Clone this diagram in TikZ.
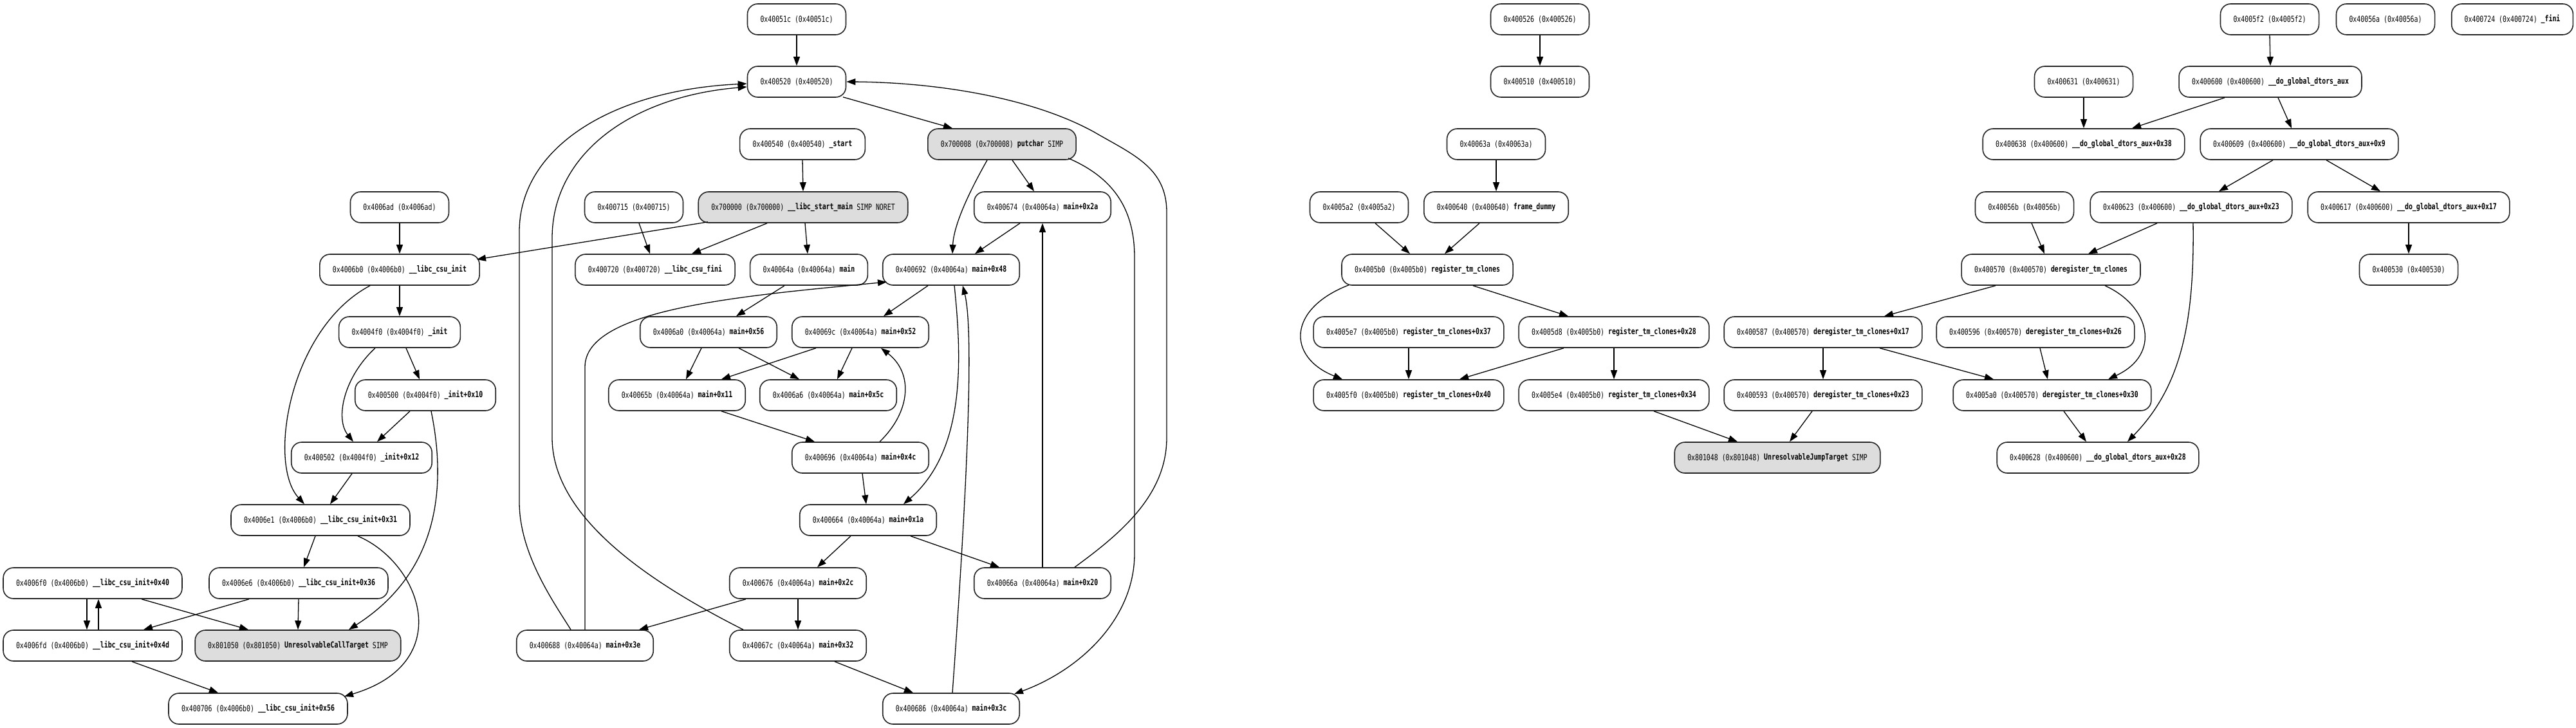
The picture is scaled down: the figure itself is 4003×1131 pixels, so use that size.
\documentclass[tikz,border=0pt]{standalone}
\usepackage{fontspec}
\setmonofont[FakeStretch=0.76]{DejaVu Sans Mono}
\usetikzlibrary{arrows.meta}
\definecolor{nodegray}{HTML}{DDDDDD}
\newcommand\fnm[1]{\raisebox{1pt}{\bfseries #1}}
\begin{document}
\begin{tikzpicture}[x=1pt,y=-1pt,
  blk/.style={draw=black!85, line width=1.6pt, rounded corners=16pt, minimum height=48pt, inner xsep=20pt, inner ysep=0pt, fill=white, font=\ttfamily\fontsize{13}{15}\selectfont},
  gblk/.style={blk, fill=nodegray},
  conn/.style={-{Triangle[length=14pt,width=10pt]}, line width=1.3pt},
]
\useasboundingbox (0,0) rectangle (4003,1131);

% ---------- left cluster ----------
\node[blk] (n4006ad) at (621,322) {0x4006ad (0x4006ad)};
\node[blk] (n4006b0) at (621,419) {0x4006b0 (0x4006b0) \fnm{\_\_libc\_csu\_init}};
\node[blk] (n4004f0) at (621,516) {0x4004f0 (0x4004f0) \fnm{\_init}};
\node[blk] (n400500) at (661,614) {0x400500 (0x4004f0) \fnm{\_init+0x10}};
\node[blk] (n400502) at (562,711) {0x400502 (0x4004f0) \fnm{\_init+0x12}};
\node[blk] (n4006e1) at (498,808) {0x4006e1 (0x4006b0) \fnm{\_\_libc\_csu\_init+0x31}};
\node[blk] (n4006f0) at (144,906) {0x4006f0 (0x4006b0) \fnm{\_\_libc\_csu\_init+0x40}};
\node[blk] (n4006e6) at (464,906) {0x4006e6 (0x4006b0) \fnm{\_\_libc\_csu\_init+0x36}};
\node[blk] (n4006fd) at (144,1003) {0x4006fd (0x4006b0) \fnm{\_\_libc\_csu\_init+0x4d}};
\node[gblk] (n801050) at (463,1003) {0x801050 (0x801050) \fnm{UnresolvableCallTarget} SIMP};
\node[blk] (n400706) at (401,1101) {0x400706 (0x4006b0) \fnm{\_\_libc\_csu\_init+0x56}};

% ---------- middle cluster ----------
\node[blk] (n40051c) at (1238,30) {0x40051c (0x40051c)};
\node[blk] (n400520) at (1238,127) {0x400520 (0x400520)};
\node[blk] (n400540) at (1247,224) {0x400540 (0x400540) \fnm{\_start}};
\node[gblk] (n700008) at (1557,224) {0x700008 (0x700008) \fnm{putchar} SIMP};
\node[blk] (n400715) at (985,322) {0x400715 (0x400715)};
\node[gblk] (n700000) at (1248,322) {0x700000 (0x700000) \fnm{\_\_libc\_start\_main} SIMP NORET};
\node[blk] (n400674) at (1620,322) {0x400674 (0x40064a) \fnm{main+0x2a}};
\node[blk] (n400720) at (1018,419) {0x400720 (0x400720) \fnm{\_\_libc\_csu\_fini}};
\node[blk] (n40064a) at (1257,419) {0x40064a (0x40064a) \fnm{main}};
\node[blk] (n400692) at (1478,419) {0x400692 (0x40064a) \fnm{main+0x48}};
\node[blk] (n4006a0) at (1101,516) {0x4006a0 (0x40064a) \fnm{main+0x56}};
\node[blk] (n40069c) at (1337,516) {0x40069c (0x40064a) \fnm{main+0x52}};
\node[blk] (n40065b) at (1052,614) {0x40065b (0x40064a) \fnm{main+0x11}};
\node[blk] (n4006a6) at (1287,614) {0x4006a6 (0x40064a) \fnm{main+0x5c}};
\node[blk] (n400696) at (1337,711) {0x400696 (0x40064a) \fnm{main+0x4c}};
\node[blk] (n400664) at (1349,808) {0x400664 (0x40064a) \fnm{main+0x1a}};
\node[blk] (n400676) at (1240,906) {0x400676 (0x40064a) \fnm{main+0x2c}};
\node[blk] (n40066a) at (1620,906) {0x40066a (0x40064a) \fnm{main+0x20}};
\node[blk] (n400688) at (909,1003) {0x400688 (0x40064a) \fnm{main+0x3e}};
\node[blk] (n40067c) at (1240,1003) {0x40067c (0x40064a) \fnm{main+0x32}};
\node[blk] (n400686) at (1478,1101) {0x400686 (0x40064a) \fnm{main+0x3c}};

% ---------- right cluster 1 ----------
\node[blk] (n400526) at (2393,30) {0x400526 (0x400526)};
\node[blk] (n400510) at (2393,127) {0x400510 (0x400510)};
\node[blk] (n40063a) at (2325,224) {0x40063a (0x40063a)};
\node[blk] (n4005a2) at (2112,322) {0x4005a2 (0x4005a2)};
\node[blk] (n400640) at (2325,322) {0x400640 (0x400640) \fnm{frame\_dummy}};
\node[blk] (n4005b0) at (2218,419) {0x4005b0 (0x4005b0) \fnm{register\_tm\_clones}};
\node[blk] (n4005e7) at (2189,516) {0x4005e7 (0x4005b0) \fnm{register\_tm\_clones+0x37}};
\node[blk] (n4005d8) at (2508,516) {0x4005d8 (0x4005b0) \fnm{register\_tm\_clones+0x28}};
\node[blk] (n400587) at (2833,516) {0x400587 (0x400570) \fnm{deregister\_tm\_clones+0x17}};
\node[blk] (n4005f0) at (2189,614) {0x4005f0 (0x4005b0) \fnm{register\_tm\_clones+0x40}};
\node[blk] (n4005e4) at (2508,614) {0x4005e4 (0x4005b0) \fnm{register\_tm\_clones+0x34}};
\node[blk] (n400593) at (2833,614) {0x400593 (0x400570) \fnm{deregister\_tm\_clones+0x23}};
\node[gblk] (n801048) at (2762,711) {0x801048 (0x801048) \fnm{UnresolvableJumpTarget} SIMP};

% ---------- right cluster 2 ----------
\node[blk] (n4005f2) at (3527,30) {0x4005f2 (0x4005f2)};
\node[blk] (n40056a) at (3707,30) {0x40056a (0x40056a)};
\node[blk] (n400724) at (3904,30) {0x400724 (0x400724) \fnm{\_fini}};
\node[blk] (n400631) at (3238,127) {0x400631 (0x400631)};
\node[blk] (n400600) at (3528,127) {0x400600 (0x400600) \fnm{\_\_do\_global\_dtors\_aux}};
\node[blk] (n400638) at (3238,224) {0x400638 (0x400600) \fnm{\_\_do\_global\_dtors\_aux+0x38}};
\node[blk] (n400609) at (3573,224) {0x400609 (0x400600) \fnm{\_\_do\_global\_dtors\_aux+0x9}};
\node[blk] (n40056b) at (3146,322) {0x40056b (0x40056b)};
\node[blk] (n400623) at (3405,322) {0x400623 (0x400600) \fnm{\_\_do\_global\_dtors\_aux+0x23}};
\node[blk] (n400617) at (3743,322) {0x400617 (0x400600) \fnm{\_\_do\_global\_dtors\_aux+0x17}};
\node[blk] (n400570) at (3187,419) {0x400570 (0x400570) \fnm{deregister\_tm\_clones}};
\node[blk] (n400530) at (3743,419) {0x400530 (0x400530)};
\node[blk] (n400596) at (3163,516) {0x400596 (0x400570) \fnm{deregister\_tm\_clones+0x26}};
\node[blk] (n4005a0) at (3189,614) {0x4005a0 (0x400570) \fnm{deregister\_tm\_clones+0x30}};
\node[blk] (n400628) at (3260,711) {0x400628 (0x400600) \fnm{\_\_do\_global\_dtors\_aux+0x28}};

% ---------- edges: left ----------
\draw[conn] (n4006ad.south) -- (n4006b0.north);
\draw[conn] ([xshift=-148pt,yshift=2pt]n700000.south) -- ([xshift=120pt,yshift=16pt]n4006b0.center);
\draw[conn] (n4006b0.south) -- (n4004f0.north);
\draw[conn] ([xshift=-46pt]n4006b0.south) .. controls (450,510) and (415,720) .. ([xshift=-25pt]n4006e1.north);
\draw[conn] ([xshift=10pt]n4004f0.south) -- ([xshift=-9pt]n400500.north);
\draw[conn] ([xshift=-38pt]n4004f0.south) .. controls (535,585) and (520,650) .. ([xshift=-13pt]n400502.north);
\draw[conn] ([xshift=-24pt]n400500.south) -- ([xshift=24pt]n400502.north);
\draw[conn] ([xshift=9pt]n400500.south) .. controls (695,760) and (680,890) .. ([xshift=79pt]n801050.north);
\draw[conn] ([xshift=-15pt]n400502.south) -- ([xshift=15pt]n4006e1.north);
\draw[conn] ([xshift=-8pt]n4006e1.south) -- ([xshift=8pt]n4006e6.north);
\draw[conn] ([xshift=58pt]n4006e1.south) .. controls (655,875) and (710,1030) .. ([xshift=134pt,yshift=19pt]n400706.center);
\draw[conn] ([xshift=-9pt]n4006f0.south) -- ([xshift=-9pt]n4006fd.north);
\draw[conn] ([xshift=9pt]n4006fd.north) -- ([xshift=9pt]n4006f0.south);
\draw[conn] ([xshift=76pt]n4006f0.south) -- ([xshift=-77pt]n801050.north);
\draw[conn] ([xshift=-77pt]n4006e6.south) -- ([xshift=79pt]n4006fd.north);
\draw[conn] (n4006e6.south) -- (n801050.north);
\draw[conn] ([xshift=61pt]n4006fd.south) -- ([xshift=-62pt]n400706.north);

% ---------- edges: middle ----------
\draw[conn] (n40051c.south) -- (n400520.north);
\draw[conn] ([xshift=72pt,yshift=1pt]n400520.south) -- ([xshift=-77pt]n700008.north);
\draw[conn] (n400540.south) -- (n700000.north);
\draw[conn] ([xshift=-56pt]n700000.south) -- ([xshift=57pt]n400720.north);
\draw[conn] ([xshift=3pt]n700000.south) -- ([xshift=-2pt]n40064a.north);
\draw[conn] ([xshift=8pt]n400715.south) -- ([xshift=-8pt]n400720.north);
\draw[conn] ([xshift=16pt]n700008.south) -- ([xshift=-13pt]n400674.north);
\draw[conn] ([xshift=-23pt]n700008.south) .. controls (1505,300) and (1482,350) .. ([xshift=2pt]n400692.north);
\draw[conn] ([xshift=103pt,yshift=3pt]n700008.south) .. controls (1735,278) and (1763,330) .. (1763,400) -- (1763,860) .. controls (1763,960) and (1680,1040) .. ([xshift=98pt,yshift=-2pt]n400686.north);
\draw[conn] ([xshift=-35pt]n400674.south) -- ([xshift=37pt]n400692.north);
\draw[conn] (n40066a.north) -- (n400674.south);
\draw[conn] ([xshift=50pt]n40066a.north) .. controls (1740,830) and (1813,770) .. (1813,680) -- (1813,330) .. controls (1813,260) and (1760,240) .. (1700,205) .. controls (1600,150) and (1450,128) .. (n400520.east);
\draw[conn] ([xshift=-22pt]n400688.north) .. controls (860,935) and (807,860) .. (807,780) -- (807,360) .. controls (807,230) and (950,140) .. ([yshift=-3pt]n400520.west);
\draw[conn] ([xshift=-85pt]n40067c.north) .. controls (1000,900) and (858,800) .. (858,680) -- (858,370) .. controls (858,240) and (980,150) .. ([yshift=-8pt]n400520.west);
\draw[conn] (n400688.north) -- (909,570) .. controls (909,480) and (1150,460) .. ([xshift=-100pt,yshift=-19pt]n400692.center);
\draw[conn] ([xshift=-38pt]n40064a.south) -- ([xshift=43pt]n4006a0.north);
\draw[conn] ([xshift=-36pt]n400692.south) -- ([xshift=36pt]n40069c.north);
\draw[conn] ([xshift=5pt]n400692.south) .. controls (1495,560) and (1500,700) .. ([xshift=55pt]n400664.north);
\draw[conn] ([xshift=2pt]n400686.north) .. controls (1500,800) and (1515,520) .. ([xshift=18pt]n400692.south);
\draw[conn] ([xshift=-11pt]n4006a0.south) -- ([xshift=14pt]n40065b.north);
\draw[conn] ([xshift=47pt]n4006a0.south) -- ([xshift=-45pt]n4006a6.north);
\draw[conn] ([xshift=-69pt]n40069c.south) -- ([xshift=69pt]n40065b.north);
\draw[conn] ([xshift=-13pt]n40069c.south) -- ([xshift=14pt]n4006a6.north);
\draw[conn] ([xshift=69pt]n40065b.south) -- ([xshift=-71pt]n400696.north);
\draw[conn] ([xshift=30pt]n400696.north) .. controls (1415,640) and (1420,580) .. ([xshift=32pt]n40069c.south);
\draw[conn] ([xshift=3pt]n400696.south) -- ([xshift=-3pt]n400664.north);
\draw[conn] ([xshift=-27pt]n400664.south) -- ([xshift=30pt]n400676.north);
\draw[conn] ([xshift=66pt]n400664.south) -- ([xshift=-67pt]n40066a.north);
\draw[conn] ([xshift=-81pt]n400676.south) -- ([xshift=84pt]n400688.north);
\draw[conn] (n400676.south) -- (n40067c.north);
\draw[conn] ([xshift=57pt]n40067c.south) -- ([xshift=-59pt]n400686.north);

% ---------- edges: right 1 ----------
\draw[conn] (n400526.south) -- (n400510.north);
\draw[conn] (n40063a.south) -- (n400640.north);
\draw[conn] ([xshift=25pt]n4005a2.south) -- ([xshift=-27pt]n4005b0.north);
\draw[conn] ([xshift=-26pt]n400640.south) -- ([xshift=27pt]n4005b0.north);
\draw[conn] ([xshift=-122pt,yshift=1pt]n4005b0.south) .. controls (2000,480) and (2000,555) .. ([xshift=-103pt]n4005f0.north);
\draw[conn] ([xshift=71pt]n4005b0.south) -- ([xshift=-71pt]n4005d8.north);
\draw[conn] (n4005e7.south) -- (n4005f0.north);
\draw[conn] ([xshift=-78pt]n4005d8.south) -- ([xshift=79pt]n4005f0.north);
\draw[conn] (n4005d8.south) -- (n4005e4.north);
\draw[conn] ([xshift=62pt]n4005e4.south) -- ([xshift=-62pt]n801048.north);
\draw[conn] ([xshift=-17pt]n400593.south) -- ([xshift=19pt]n801048.north);
\draw[conn] (n400587.south) -- (n400593.north);

% ---------- edges: right 2 ----------
\draw[conn] ([xshift=-86pt]n400570.south) -- ([xshift=95pt]n400587.north);
\draw[conn] ([xshift=88pt]n400587.south) -- ([xshift=-91pt]n4005a0.north);
\draw[conn] ([xshift=7pt]n400596.south) -- ([xshift=-7pt]n4005a0.north);
\draw[conn] ([xshift=84pt]n400570.south) .. controls (3340,475) and (3360,550) .. ([xshift=87pt]n4005a0.north);
\draw[conn] ([xshift=18pt]n4005a0.south) -- ([xshift=-18pt]n400628.north);
\draw[conn] ([xshift=3pt]n400623.south) .. controls (3410,500) and (3390,600) .. ([xshift=46pt]n400628.north);
\draw[conn] ([xshift=-53pt]n400623.south) -- ([xshift=58pt]n400570.north);
\draw[conn] ([xshift=11pt]n40056b.south) -- ([xshift=-10pt]n400570.north);
\draw[conn] (n4005f2.south) -- (n400600.north);
\draw[conn] (n400631.south) -- (n400638.north);
\draw[conn] ([xshift=-71pt]n400600.south) -- ([xshift=75pt]n400638.north);
\draw[conn] ([xshift=12pt]n400600.south) -- ([xshift=-12pt]n400609.north);
\draw[conn] ([xshift=-41pt]n400609.south) -- ([xshift=43pt]n400623.north);
\draw[conn] ([xshift=42pt]n400609.south) -- ([xshift=-44pt]n400617.north);
\draw[conn] (n400617.south) -- (n400530.north);
\end{tikzpicture}
\end{document}
